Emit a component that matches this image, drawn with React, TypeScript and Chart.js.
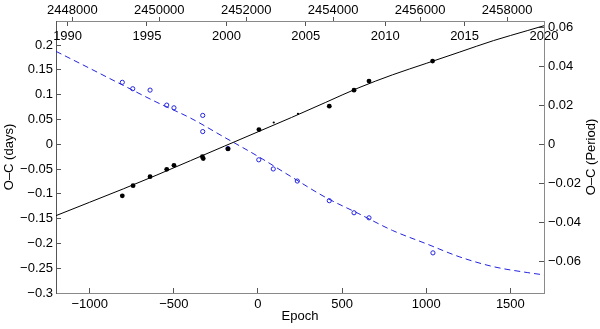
import { useEffect, useRef } from 'react';
import { Chart, registerables } from 'chart.js';

Chart.register(...registerables);

// ---- data ----
const fitEpochs = [-1200, -1000, -800, -600, -400, -200, 0, 200, 400, 600, 800, 1000, 1200, 1400, 1600, 1700];
const fitDays = [-0.144, -0.117, -0.09, -0.062, -0.033, -0.004, 0.025, 0.054, 0.084, 0.114, 0.14, 0.163, 0.186, 0.209, 0.229, 0.239];
const fitPeriod = [0.0477, 0.039, 0.0302, 0.0215, 0.0134, 0.0036, -0.0062, -0.0168, -0.0272, -0.0357, -0.0443, -0.0511, -0.0579, -0.0629, -0.0659, -0.0671];

const obsEpochs = [-806, -742, -641, -542, -499, -330, -325, -178, 6, 424, 571, 660, 1038];
const obsDays = [-0.104, -0.0836, -0.0655, -0.0507, -0.0426, -0.025, -0.029, -0.0094, 0.0296, 0.0767, 0.109, 0.1273, 0.1677];

const faintEpochs = [94, 238];
const faintDays = [0.0438, 0.0614];

const periodEpochs = [-806, -744, -641, -542, -499, -328, -328, -178, 5, 91, 234, 424, 571, 660, 1040];
const periodValues = [0.0318, 0.0285, 0.0278, 0.0201, 0.0187, 0.0148, 0.0065, -0.0022, -0.008, -0.0127, -0.0189, -0.029, -0.0352, -0.0378, -0.0558];

const epochTicks = [-1000, -500, 0, 500, 1000, 1500];
const daysTicks = [-0.3, -0.25, -0.2, -0.15, -0.1, -0.05, 0, 0.05, 0.1, 0.15, 0.2];
const periodTicks = [-0.06, -0.04, -0.02, 0, 0.02, 0.04, 0.06];
const jdTicks = [2448000, 2450000, 2452000, 2454000, 2456000, 2458000];
const yearTicks = [1990, 1995, 2000, 2005, 2010, 2015, 2020];

const EPOCH_MIN = -1200;
const EPOCH_MAX = 1700;
const DAYS_MIN = -0.3;
const DAYS_MAX = 0.2485;
const PERIOD_FACTOR = 0.2547;
const JD_MIN = 2447625;
const JD_MAX = 2458849;
const YEAR_MIN = 1989.27;
const YEAR_MAX = 2020;

const FONT = { family: '"Liberation Sans", Arial, Helvetica, sans-serif', size: 13 };
const BLUE = '#2323e0';
const FRAME = '#8a8a8a';

const fmt = (v: number) => String(v).replace('-', '\u2212');
const pts = (xs: number[], ys: number[]) => xs.map((x, i) => ({ x, y: ys[i] }));
const setTicks = (arr: number[]) => (scale: any) => {
  scale.ticks = arr.map((value) => ({ value }));
};

const textPlugin = {
  id: 'extraText',
  afterDraw(chart: any) {
    const { ctx, chartArea } = chart;
    const cy = (chartArea.top + chartArea.bottom) / 2;
    const font = `${FONT.size}px ${FONT.family}`;

    // year labels inside the top of the plot, placed by the year scale
    const ys = chart.scales.xYear;
    ctx.save();
    ctx.fillStyle = '#000';
    ctx.font = font;
    ctx.textAlign = 'center';
    ctx.textBaseline = 'middle';
    yearTicks.forEach((v) => {
      ctx.fillText(String(v), ys.getPixelForValue(v), chartArea.top + 15.5);
    });
    ctx.restore();

    ctx.save();
    ctx.fillStyle = '#000';
    ctx.font = font;
    ctx.textAlign = 'center';
    ctx.textBaseline = 'middle';
    ctx.translate(9, cy);
    ctx.rotate(-Math.PI / 2);
    ctx.fillText('O\u2013C (days)', 0, 0);
    ctx.restore();

    ctx.save();
    ctx.fillStyle = '#000';
    ctx.font = font;
    ctx.textAlign = 'center';
    ctx.textBaseline = 'middle';
    ctx.translate(591, cy);
    ctx.rotate(-Math.PI / 2);
    ctx.fillText('O\u2013C (Period)', 0, 0);
    ctx.restore();
  },
};

export default function App() {
  const ref = useRef<HTMLCanvasElement | null>(null);

  useEffect(() => {
    document.body.style.margin = '0';
    const canvas = ref.current;
    if (!canvas) return;
    const chart = new Chart(canvas, {
      type: 'scatter',
      data: {
        datasets: [
          {
            label: 'obs days',
            data: pts(obsEpochs, obsDays),
            xAxisID: 'x',
            yAxisID: 'y',
            pointRadius: 2.4,
            pointBackgroundColor: '#000',
            pointBorderColor: '#000',
            pointBorderWidth: 0,
            showLine: false,
          },
          {
            label: 'faint days',
            data: pts(faintEpochs, faintDays),
            xAxisID: 'x',
            yAxisID: 'y',
            pointRadius: 1.1,
            pointBackgroundColor: '#000',
            pointBorderColor: '#000',
            pointBorderWidth: 0,
            showLine: false,
          },
          {
            label: 'obs period',
            data: pts(periodEpochs, periodValues),
            xAxisID: 'x',
            yAxisID: 'y2',
            pointRadius: 2.1,
            pointBackgroundColor: 'rgba(0,0,0,0)',
            pointBorderColor: BLUE,
            pointBorderWidth: 1,
            showLine: false,
          },
          {
            label: 'fit days',
            data: pts(fitEpochs, fitDays),
            xAxisID: 'x',
            yAxisID: 'y',
            showLine: true,
            borderColor: '#000',
            borderWidth: 1,
            pointRadius: 0,
            cubicInterpolationMode: 'monotone',
          },
          {
            label: 'fit period',
            data: pts(fitEpochs, fitPeriod),
            xAxisID: 'x',
            yAxisID: 'y2',
            showLine: true,
            borderColor: BLUE,
            borderWidth: 1,
            borderDash: [6, 4],
            pointRadius: 0,
            cubicInterpolationMode: 'monotone',
          },
        ],
      },
      options: {
        animation: false,
        responsive: false,
        devicePixelRatio: 1,
        layout: { padding: 0 },
        plugins: { legend: { display: false }, tooltip: { enabled: false } },
        scales: {
          x: {
            type: 'linear',
            position: 'bottom',
            min: EPOCH_MIN,
            max: EPOCH_MAX,
            afterBuildTicks: setTicks(epochTicks),
            afterFit: (s: any) => { s.height = 36; },
            border: { display: true, color: FRAME, width: 1 },
            grid: { drawOnChartArea: false, drawTicks: true, tickLength: -5, tickColor: '#555' },
            ticks: { color: '#000', font: FONT, padding: 8.7, maxRotation: 0, autoSkip: false, callback: (v: any) => fmt(v) },
            title: { display: true, text: 'Epoch', color: '#000', font: FONT, padding: { top: 0, bottom: 5 } },
          },
          jd: {
            axis: 'x',
            type: 'linear',
            position: 'top',
            weight: 1,
            min: JD_MIN,
            max: JD_MAX,
            afterBuildTicks: setTicks(jdTicks),
            afterFit: (s: any) => { s.height = 21; },
            border: { display: true, color: FRAME, width: 1 },
            grid: { drawOnChartArea: false, drawTicks: true, tickLength: 4, tickColor: '#555' },
            ticks: { color: '#000', font: FONT, padding: -0.8, maxRotation: 0, autoSkip: false, callback: (v: any) => String(v) },
          },
          xYear: {
            axis: 'x',
            type: 'linear',
            position: 'top',
            weight: 0,
            min: YEAR_MIN,
            max: YEAR_MAX,
            afterBuildTicks: setTicks(yearTicks),
            afterFit: (s: any) => { s.height = 0; },
            border: { display: false },
            grid: { drawOnChartArea: false, drawTicks: true, tickLength: -5, tickColor: '#555' },
            ticks: { display: false, autoSkip: false },
          },
          y: {
            type: 'linear',
            position: 'left',
            min: DAYS_MIN,
            max: DAYS_MAX,
            afterBuildTicks: setTicks(daysTicks),
            afterFit: (s: any) => { s.width = 56; },
            border: { display: true, color: '#555', width: 1 },
            grid: { drawOnChartArea: false, drawTicks: true, tickLength: -5, tickColor: '#555' },
            ticks: { color: '#000', font: FONT, padding: 8, autoSkip: false, callback: (v: any) => fmt(v) },
          },
          y2: {
            type: 'linear',
            position: 'right',
            min: DAYS_MIN * PERIOD_FACTOR,
            max: DAYS_MAX * PERIOD_FACTOR,
            afterBuildTicks: setTicks(periodTicks),
            afterFit: (s: any) => { s.width = 56; },
            border: { display: true, color: FRAME, width: 1 },
            grid: { drawOnChartArea: false, drawTicks: true, tickLength: -5, tickColor: '#555' },
            ticks: { color: '#000', font: FONT, padding: 9, autoSkip: false, callback: (v: any) => fmt(v) },
          },
        },
      } as any,
      plugins: [textPlugin],
    });
    return () => chart.destroy();
  }, []);

  return (
    <div style={{ width: 600, height: 329, background: '#fff' }}>
      <canvas ref={ref} width={600} height={329} style={{ display: 'block' }} />
    </div>
  );
}
